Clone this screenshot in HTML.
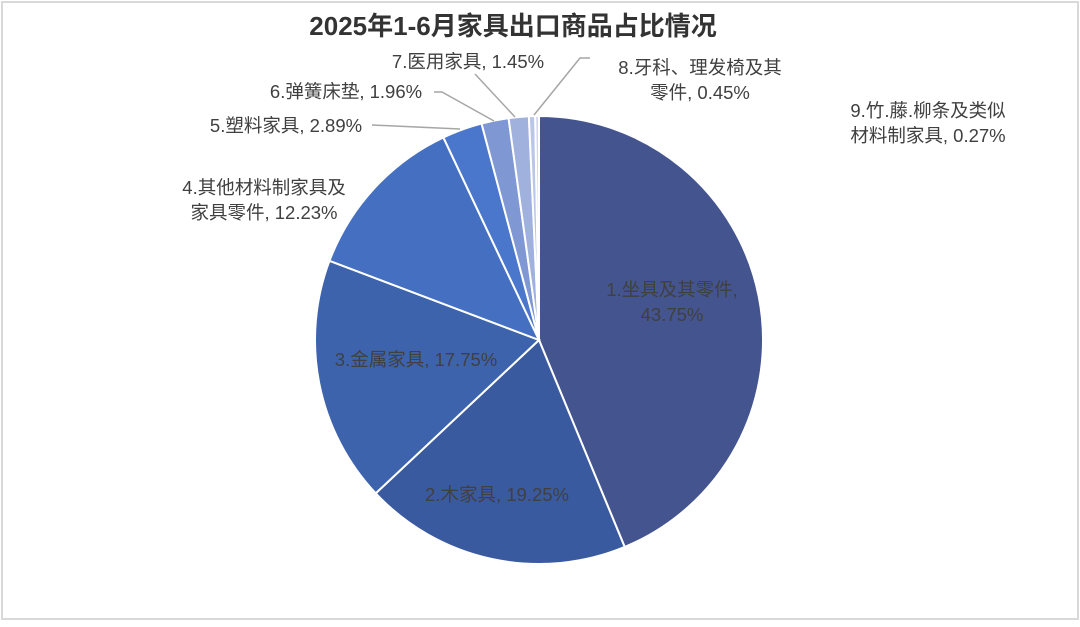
<!DOCTYPE html>
<html><head><meta charset="utf-8">
<style>
html,body{margin:0;padding:0;background:#fff;}
body{width:1080px;height:622px;overflow:hidden;font-family:"Liberation Sans","Noto Sans CJK SC",sans-serif;}
</style></head>
<body>
<svg width="1080" height="622" viewBox="0 0 1080 622" style="font-family:'Liberation Sans','Noto Sans CJK SC',sans-serif">
<rect x="2" y="2" width="1076" height="617" fill="#fff" stroke="#d9d9d9" stroke-width="2"/>
<text x="513" y="35" text-anchor="middle" font-size="26" font-weight="bold" fill="#333">2025年1-6月家具出口商品占比情况</text>
<g id="slices"></g>
<g id="labels" fill="#404040" font-size="18.5">
<text x="672" y="296" text-anchor="middle"><tspan x="672">1.坐具及其零件,</tspan><tspan x="672" dy="25">43.75%</tspan></text>
<text x="497" y="501" text-anchor="middle">2.木家具, 19.25%</text>
<text x="416" y="366" text-anchor="middle">3.金属家具, 17.75%</text>
<text x="264" y="194" text-anchor="middle"><tspan x="264">4.其他材料制家具及</tspan><tspan x="264" dy="25">家具零件, 12.23%</tspan></text>
<text x="286" y="132" text-anchor="middle">5.塑料家具, 2.89%</text>
<text x="346" y="98" text-anchor="middle">6.弹簧床垫, 1.96%</text>
<text x="468" y="68" text-anchor="middle">7.医用家具, 1.45%</text>
<text x="700" y="74" text-anchor="middle"><tspan x="700">8.牙科、理发椅及其</tspan><tspan x="700" dy="25">零件, 0.45%</tspan></text>
<text x="928" y="117" text-anchor="middle"><tspan x="928">9.竹.藤.柳条及类似</tspan><tspan x="928" dy="25">材料制家具, 0.27%</tspan></text>
</g>
<g stroke="#a6a6a6" stroke-width="1.5" fill="none">
<polyline points="372,125 460,129"/>
<polyline points="434,92 442,92 494,121"/>
<polyline points="475,74 515,117"/>
<polyline points="590,58 580,58 534,115"/>
</g>
</svg>
<script>
const categories=["1.坐具及其零件","2.木家具","3.金属家具","4.其他材料制家具及家具零件","5.塑料家具","6.弹簧床垫","7.医用家具","8.牙科、理发椅及其零件","9.竹.藤.柳条及类似材料制家具"];
const values=[43.75,19.25,17.75,12.23,2.89,1.96,1.45,0.45,0.27];
const colors=["#44548e","#3a5a9f","#3d63ad","#4570c2","#4a76cc","#7f98d3","#a0b1de","#bac6e7","#d0d8ef"];
const cx=539,cy=340,r=224;
const g=document.getElementById('slices');
const total=values.reduce((a,b)=>a+b,0);
let a0=0;
values.forEach((v,i)=>{
  const a1=a0+v/total*2*Math.PI;
  const x0=cx+r*Math.sin(a0),y0=cy-r*Math.cos(a0);
  const x1=cx+r*Math.sin(a1),y1=cy-r*Math.cos(a1);
  const large=(a1-a0)>Math.PI?1:0;
  const p=document.createElementNS('http://www.w3.org/2000/svg','path');
  p.setAttribute('d',`M${cx},${cy}L${x0},${y0}A${r},${r} 0 ${large} 1 ${x1},${y1}Z`);
  p.setAttribute('fill',colors[i]);
  p.setAttribute('stroke','#fff');
  p.setAttribute('stroke-width','2');
  
  
  g.appendChild(p);
  a0=a1;
});
</script>
</body></html>
